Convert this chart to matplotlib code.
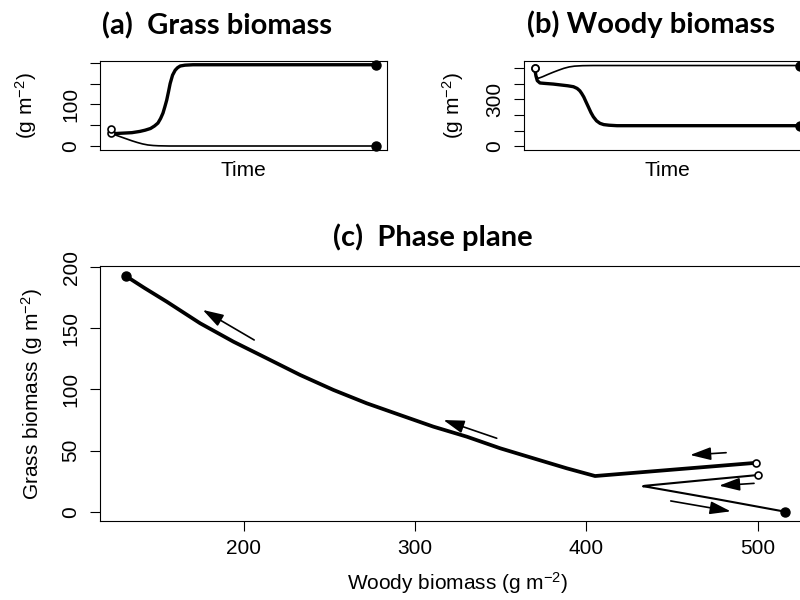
import matplotlib
matplotlib.use('Agg')
import matplotlib.pyplot as plt

plt.rcParams['font.family'] = ['Liberation Sans', 'DejaVu Sans']
plt.rcParams['mathtext.fontset'] = 'custom'
plt.rcParams['mathtext.rm'] = 'Liberation Sans'
plt.rcParams['mathtext.default'] = 'regular'

# time courses (arbitrary time units 0..100)
t_grass_hi = [0, 0.6, 2, 5, 8, 11, 13, 15, 16.5, 17.8, 18.8, 19.7, 20.4, 21.1, 21.8, 22.4, 23.3, 24.3, 25.2, 26.2, 28, 31, 100]
grass_hi = [40, 31, 30, 31, 32, 35, 38, 42, 48, 55, 66, 79, 94, 110, 131, 150, 170, 182, 188, 192, 194, 195, 195]
t_grass_lo = [0, 2, 4, 6, 8, 10, 12, 14, 16, 18, 22, 100]
grass_lo = [31, 26, 21.5, 17, 12.5, 8.5, 5, 2.5, 1.2, 0.5, 0, 0]

t_woody_hi = [0, 0.5, 1.4, 3, 5, 7, 9, 11, 13, 15, 18, 22, 100]
woody_hi = [500, 450, 435, 445, 460, 474, 487, 499, 508, 513, 516, 517, 517]
t_woody_lo = [0, 0.5, 1, 2, 4, 7, 10, 12.5, 14.6, 16, 17, 17.7, 18.5, 19.3, 20.2, 21.2, 22.1, 23.3, 24.6, 26, 28, 31, 100]
woody_lo = [500, 450, 420, 405, 402, 398, 392, 387, 381, 370, 355, 338, 315, 285, 252, 215, 188, 162, 146, 138, 134, 131, 131]

# phase plane trajectories
pp_woody_thick = [499, 452, 405, 388.5, 369, 349.6, 330.1, 310.6, 291.2, 271.7, 252.3, 232.8, 213.4, 193.9, 174.4, 155, 142, 131]
pp_grass_thick = [40, 34.6, 29.2, 35.5, 43.7, 51.9, 61.4, 69.6, 79.1, 88.7, 99.6, 111.9, 125.5, 139.1, 154.2, 171.8, 183, 192.9]
pp_woody_thin = [500, 466, 440, 434, 433, 436, 476, 516]
pp_grass_thin = [30, 25.5, 22, 21.2, 20.8, 20.2, 10.3, 0]

# direction arrows (tail -> head)
arrow_tails = [(206.0, 140.5), (347.6, 60.1), (481.5, 48.3), (497.8, 23.2), (449.2, 8.8)]
arrow_heads = [(176.0, 165.1), (316.5, 75.0), (460.5, 46.4), (477.4, 21.3), (484.2, 0.3)]

THICK = 2.4
THIN = 1.2
FS = 15

fig = plt.figure(figsize=(8, 6), dpi=100)


def px_axes(left, right, top, bottom):
    return fig.add_axes([left / 800, 1 - bottom / 600, (right - left) / 800, (bottom - top) / 600])


def style(ax):
    for s in ax.spines.values():
        s.set_linewidth(0.8)
    ax.tick_params(axis='both', direction='out', length=7, width=0.8, labelsize=FS, pad=6)
    ax.tick_params(axis='y', labelrotation=90, pad=7)
    for lab in ax.get_yticklabels():
        lab.set_va('center')


def ends(ax, x, y):
    ax.plot(x[0], y[0], 'o', ms=5, mfc='white', mec='black', mew=1.2, zorder=5, clip_on=False)
    ax.plot(x[-1], y[-1], 'o', ms=6.5, color='black', zorder=5, clip_on=False)


# (a) grass
ax_a = px_axes(100, 387, 61, 150)
ax_a.plot(t_grass_lo, grass_lo, color='black', lw=THIN)
ax_a.plot(t_grass_hi, grass_hi, color='black', lw=THICK)
ends(ax_a, t_grass_lo, grass_lo)
ends(ax_a, t_grass_hi, grass_hi)
ax_a.set_xlim(-4, 104)
ax_a.set_ylim(-9.6, 204)
ax_a.set_xticks([])
ax_a.set_yticks([0, 50, 100, 150, 200])
ax_a.set_yticklabels(['0', '', '100', '', ''])
ax_a.set_xlabel('Time', fontsize=FS, labelpad=8)
ax_a.set_ylabel(r'(g m$^{-2}$)', fontsize=FS, labelpad=16)
style(ax_a)

# (b) woody
ax_b = px_axes(524, 811, 61, 150)
ax_b.plot(t_woody_hi, woody_hi, color='black', lw=THIN)
ax_b.plot(t_woody_lo, woody_lo, color='black', lw=THICK)
ends(ax_b, t_woody_hi, woody_hi)
ends(ax_b, t_woody_lo, woody_lo)
ax_b.set_xlim(-4, 104)
ax_b.set_ylim(-25, 546)
ax_b.set_xticks([])
ax_b.set_yticks([0, 100, 200, 300, 400, 500])
ax_b.set_yticklabels(['0', '', '', '300', '', ''])
ax_b.set_xlabel('Time', fontsize=FS, labelpad=8)
ax_b.set_ylabel(r'(g m$^{-2}$)', fontsize=FS, labelpad=14)
style(ax_b)

# (c) phase plane
ax_c = px_axes(100, 815, 266.4, 521)
ax_c.plot(pp_woody_thin, pp_grass_thin, color='black', lw=THIN + 0.3)
ax_c.plot(pp_woody_thick, pp_grass_thick, color='black', lw=THICK + 0.3)
ax_c.plot(pp_woody_thin[0], pp_grass_thin[0], 'o', ms=5, mfc='white', mec='black', mew=1.2, zorder=5)
ax_c.plot(pp_woody_thick[0], pp_grass_thick[0], 'o', ms=5, mfc='white', mec='black', mew=1.2, zorder=5)
ax_c.plot(pp_woody_thin[-1], pp_grass_thin[-1], 'o', ms=6.5, color='black', zorder=5)
ax_c.plot(pp_woody_thick[-1], pp_grass_thick[-1], 'o', ms=6.5, color='black', zorder=5)
for tail, head in zip(arrow_tails, arrow_heads):
    ax_c.annotate('', xy=head, xytext=tail,
                  arrowprops=dict(arrowstyle='-|>,head_length=0.9,head_width=0.28', color='black',
                                  lw=1.2, shrinkA=0, shrinkB=0, mutation_scale=14))
ax_c.set_xlim(116, 533.4)
ax_c.set_ylim(-7.6, 200.7)
ax_c.set_xticks([200, 300, 400, 500])
ax_c.set_yticks([0, 50, 100, 150, 200])
ax_c.set_xlabel(r'Woody biomass (g m$^{-2}$)', fontsize=FS, labelpad=9)
ax_c.set_ylabel(r'Grass biomass (g m$^{-2}$)', fontsize=FS, labelpad=12)
style(ax_c)

# panel titles
title_kw = dict(fontsize=21, fontweight='bold', family=['Lato', 'DejaVu Sans'], va='baseline', ha='left')
fig.text(102 / 800, 1 - 34.5 / 600, '(a)  Grass biomass', **title_kw)
fig.text(527 / 800, 1 - 33.5 / 600, '(b) Woody biomass', **title_kw)
fig.text(333 / 800, 1 - 246 / 600, '(c)  Phase plane', **title_kw)

fig.savefig('out.png', dpi=100)
